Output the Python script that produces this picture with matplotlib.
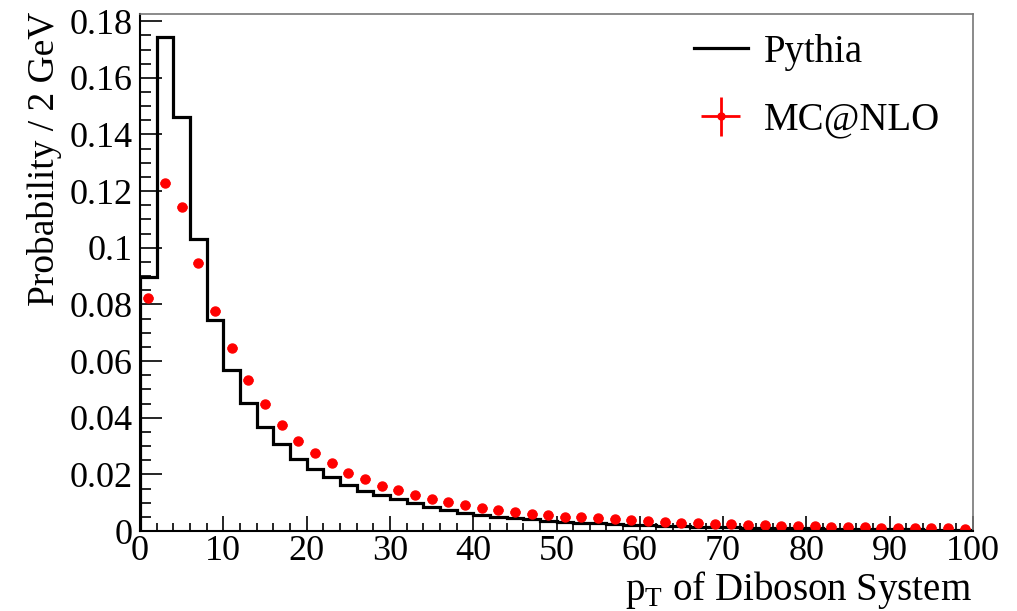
import matplotlib
matplotlib.use("Agg")
import matplotlib.pyplot as plt
import numpy as np
from matplotlib.ticker import MultipleLocator

# histogram binning (2 GeV bins from 0 to 100)
bin_edges = np.arange(0, 102, 2)
bin_centers = bin_edges[:-1] + 1

# Pythia histogram contents
pythia = [0.0897, 0.1745, 0.146, 0.103, 0.0745, 0.0568, 0.0451, 0.0368, 0.0307, 0.0253,
          0.0219, 0.0190, 0.0162, 0.0141, 0.0127, 0.0114, 0.0098, 0.0086, 0.0074, 0.0064,
          0.0057, 0.0051, 0.0046, 0.0041, 0.0037, 0.0033, 0.0030, 0.0027, 0.0024, 0.0022,
          0.0020, 0.0018, 0.0016, 0.0015, 0.0014, 0.0013, 0.0012, 0.0011, 0.0010, 0.0009,
          0.0009, 0.0008, 0.0008, 0.0007, 0.0007, 0.0006, 0.0006, 0.0005, 0.0005, 0.0005]

# MC@NLO points
mcnlo = [0.0824, 0.123, 0.1143, 0.0947, 0.0778, 0.0647, 0.0533, 0.0447, 0.0374, 0.0319,
         0.0274, 0.0239, 0.0206, 0.0184, 0.0160, 0.0145, 0.0128, 0.0113, 0.0101, 0.0091,
         0.0081, 0.0073, 0.0066, 0.0060, 0.0055, 0.0051, 0.0048, 0.0045, 0.0041, 0.0038,
         0.0035, 0.0032, 0.0030, 0.0028, 0.0026, 0.0024, 0.0022, 0.0020, 0.0018, 0.0017,
         0.0016, 0.0015, 0.0014, 0.0013, 0.0012, 0.0011, 0.0010, 0.0009, 0.0009, 0.0008]

plt.rcParams['font.family'] = ['Liberation Serif', 'DejaVu Serif']
plt.rcParams['mathtext.fontset'] = 'custom'
plt.rcParams['mathtext.rm'] = 'Liberation Serif'

fig = plt.figure(figsize=(10.17, 6.11), dpi=100)
ax = fig.add_axes([0.1377, 0.1309, 0.819, 0.846])

# histogram and points
h_pythia = ax.stairs(pythia, bin_edges, color='black', lw=2.3)
ax.errorbar(bin_centers, mcnlo, xerr=0.6, fmt='o', color='red', ms=6.5, lw=2, capsize=0)
# legend proxies (line for Pythia, cross with dot for MC@NLO)
l_pythia, = ax.plot([np.nan], [np.nan], color='black', lw=2.3)
h_mc = ax.errorbar([np.nan], [np.nan], xerr=1, yerr=1, fmt='o', color='red', ms=5, lw=2, capsize=0)

ax.set_xlim(0, 100)
ax.set_ylim(0, 0.1825)

# ROOT style ticks
ax.xaxis.set_major_locator(MultipleLocator(10))
ax.xaxis.set_minor_locator(MultipleLocator(2))
ax.yaxis.set_major_locator(MultipleLocator(0.02))
ax.yaxis.set_minor_locator(MultipleLocator(0.005))
ax.yaxis.set_major_formatter(plt.FuncFormatter(lambda v, p: '0' if abs(v) < 1e-9 else ('%g' % round(v, 3))))
ax.tick_params(axis='both', which='both', direction='in', labelsize=26, top=False, right=False)
ax.tick_params(axis='y', which='major', length=16, width=1.2, pad=5)
ax.tick_params(axis='y', which='minor', length=8, width=1.2)
ax.tick_params(axis='x', which='major', length=11, width=1.2, pad=3)
ax.tick_params(axis='x', which='minor', length=6, width=1.2)

for s in ['left', 'bottom']:
    ax.spines[s].set_linewidth(1.5)
for s in ['top', 'right']:
    ax.spines[s].set_linewidth(1.2)
    ax.spines[s].set_color('#777777')

# axis titles
fig.text(45 / 1017, 1 - 12 / 611, 'Probability / 2 GeV', rotation=90, ha='center', va='top', fontsize=27)
fig.text(972 / 1017, 1 - 590 / 611, r'$\mathrm{p}_{\mathrm{T}}$ of Diboson System', ha='right', va='center', fontsize=28)

# legend
ax.legend([l_pythia, h_mc], ['Pythia', 'MC@NLO'], loc='upper left', bbox_to_anchor=(0.646, 0.992),
          frameon=False, fontsize=28, handlelength=1.4, handletextpad=0.4, labelspacing=0.8,
          borderaxespad=0)

fig.savefig('out.png', dpi=100)
